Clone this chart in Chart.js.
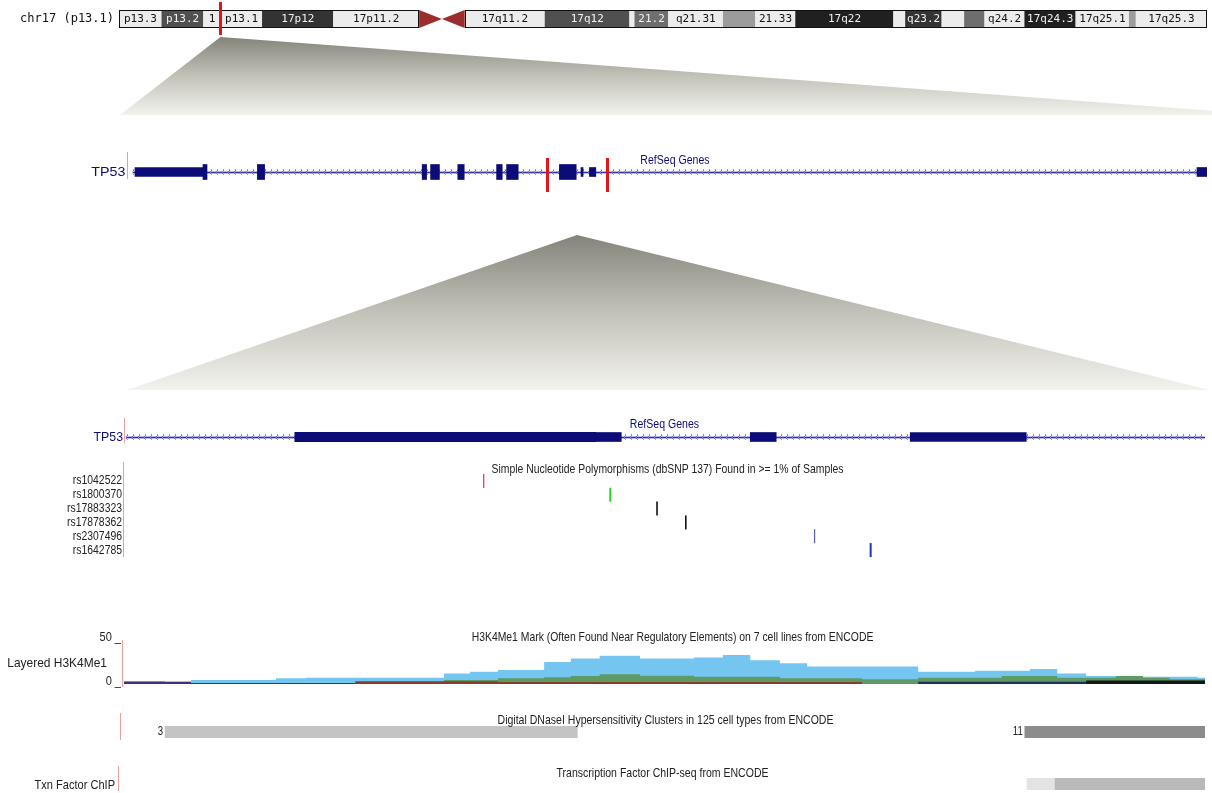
<!DOCTYPE html>
<html>
<head>
<meta charset="utf-8">
<script src="https://cdn.jsdelivr.net/npm/chart.js@4.4.0/dist/chart.umd.min.js"></script>
<style>
  html, body { margin: 0; padding: 0; background: #fff; }
  #page { position: relative; width: 1212px; height: 793px; overflow: hidden; background: #fff; }
  #page canvas { position: absolute; left: 0; }
</style>
</head>
<body>
<div id="page">
  <canvas id="links" width="1212" height="793" style="top:0px"></canvas>
  <canvas id="ideo" width="1212" height="40" style="top:0px"></canvas>
  <canvas id="gene1" width="1212" height="46" style="top:150px"></canvas>
  <canvas id="gene2" width="1212" height="40" style="top:415px"></canvas>
  <canvas id="snp" width="1212" height="106" style="top:460px"></canvas>
  <canvas id="h3" width="1212" height="66" style="top:628px"></canvas>
  <canvas id="dnase" width="1212" height="36" style="top:708px"></canvas>
  <canvas id="txn" width="1212" height="31" style="top:762px"></canvas>
</div>
<script>
// chr17 ideogram, band edges in Mb
const chromName = "chr17"
const markerBand = "p13.1"
const markerMb = 7.57
const bandLabel = ["p13.3", "p13.2", "1", "p13.1", "17p12", "17p11.2", "", "", "17q11.2", "17q12", "", "21.2", "q21.31", "", "21.33", "17q22", "", "q23.2", "", "", "q24.2", "17q24.3", "17q25.1", "", "17q25.3"]
const bandStart = [0, 3.2, 6.3, 7.6, 10.7, 16.0, 22.4, 24.1, 25.8, 31.8, 38.1, 38.5, 41.0, 45.1, 47.5, 50.5, 57.8, 58.7, 61.4, 63.1, 64.6, 67.6, 71.4, 75.4, 75.9]
const bandEnd = [3.2, 6.3, 7.6, 10.7, 16.0, 22.4, 24.1, 25.8, 31.8, 38.1, 38.5, 41.0, 45.1, 47.5, 50.5, 57.8, 58.7, 61.4, 63.1, 64.6, 67.6, 71.4, 75.4, 75.9, 81.2]
const bandStain = ["gneg", "gpos66", "gneg", "gneg", "gpos75", "gneg", "acen", "acen", "gneg", "gpos66", "gneg", "gpos50", "gneg", "gpos25", "gneg", "gpos100", "gneg", "gpos75", "gneg", "gpos50", "gneg", "gpos100", "gneg", "gpos25", "gneg"]
const chromLen = 81.2

// TP53 RefSeq, whole gene view (kb from view start)
const geneName = "TP53"
const view1 = [0, 27]
const cdsStart1 = [1.9, 3.26, 7.38, 7.59, 8.27, 9.24, 9.49, 10.81]
const cdsEnd1 = [2.0, 3.44, 7.49, 7.81, 8.43, 9.38, 9.78, 11.23]
const utrStart1 = [0.2, 11.35, 11.56, 26.75]
const utrEnd1 = [1.9, 11.4, 11.72, 27.0]
const intron1 = [0.15, 27.0]
const zoomSpan = [10.5, 12.0]

// zoomed view (same kb frame)
const cdsStart2 = [10.737]
const cdsEnd2 = [11.155]
const utrStart2 = [11.155, 11.369, 11.591]
const utrEnd2 = [11.19, 11.405, 11.752]
const intron2 = [10.503, 12.0]

// dbSNP 137 common SNPs
const snpNames = ["rs1042522", "rs1800370", "rs17883323", "rs17878362", "rs2307496", "rs1642785"]
const snpPos = [11.0, 11.176, 11.241, 11.281, 11.46, 11.538]
const snpFunc = ["missense", "coding-synon", "intron", "intron", "untranslated", "near-gene"]

// Layered H3K4Me1, bin edges (kb) and signal per cell line
const h3Edges = [10.5, 10.557, 10.593, 10.711, 10.753, 10.821, 10.944, 10.98, 11.019, 11.083, 11.12, 11.16, 11.216, 11.291, 11.331, 11.369, 11.41, 11.448, 11.493, 11.524, 11.602, 11.681, 11.718, 11.757, 11.795, 11.835, 11.876, 11.914, 11.951, 11.99, 12.0]
const huvec = [1.5, 2.6, 4.5, 6.5, 7, 7, 12, 14, 16, 25, 29, 32, 29, 30, 33, 27, 23.5, 20, 20, 20, 14, 15, 15, 17, 12, 9, 8.3, 8.3, 8.3, 7]
const hmec = [0, 0, 0, 0, 0, 2, 4.5, 4.5, 6.5, 7.6, 9, 11, 9.4, 8.3, 8.3, 8.3, 6.5, 6.5, 6.5, 5.5, 7, 7, 9, 9, 7, 7, 9, 7, 5.5, 5.5]
const gm12878 = [0, 0, 0, 0, 0, 3, 3, 3, 2.4, 2.4, 2.4, 2.4, 2.4, 2.4, 2.4, 2.4, 2.4, 2.4, 2.4, 0, 0, 0, 0, 0, 0, 0, 0, 0, 0, 0]
const k562 = [2.5, 2.5, 1.2, 1.2, 1.2, 0, 0, 0, 0, 0, 0, 0, 0, 0, 0, 0, 0, 0, 0, 0, 0, 0, 0, 0, 0, 0, 0, 0, 0, 0]
const hsmm = [0, 0, 0, 0, 0, 0, 0, 0, 0, 0, 0, 0, 0, 0, 0, 0, 0, 0, 0, 0, 2.5, 2.5, 2.5, 2.5, 2.5, 0, 0, 0, 0, 0]
const nhlf = [0, 0, 0, 0, 0, 0, 0, 0, 0, 0, 0, 0, 0, 0, 0, 0, 0, 0, 0, 0, 0, 0, 0, 0, 0, 4, 4, 4, 4, 4]
const h1 = [3.5, 0, 0, 0, 0, 0, 0, 0, 0, 0, 0, 0, 0, 0, 0, 0, 0, 0, 0, 0, 0, 0, 0, 0, 0, 0, 0, 0, 0, 0]

// DNaseI clusters and TF ChIP
const dnaseStart = [10.557, 11.75]
const dnaseEnd = [11.129, 12.0]
const dnaseScore = [3, 11]
const txnStart = [11.753, 11.792]
const txnEnd = [11.792, 12.0]
const txnScore = [2, 5]

// ---- styles ----
const NAVY = "#0c0c78"
const PINK = "rgba(235,90,90,0.6)"
const SANS = '"Liberation Sans", Arial, sans-serif'
const stainColor = { gneg: "#ececec", gpos25: "#9c9c9c", gpos50: "#6e6e6e", gpos66: "#505050", gpos75: "#333333", gpos100: "#202020", acen: "rgba(0,0,0,0)" }
const snpColor = { missense: "#ff3355", "coding-synon": "#22dd22", intron: "#111111", untranslated: "#6060b0", "near-gene": "#1f2fd0" }
const snpWidth = { missense: 1.3, "coding-synon": 2, intron: 1.6, untranslated: 1.3, "near-gene": 2 }

function txt(ctx, s, x, y, font, color, align, sx) {
  ctx.save()
  ctx.font = font
  ctx.fillStyle = color
  ctx.textAlign = align || "left"
  ctx.textBaseline = "middle"
  ctx.translate(x, y)
  ctx.scale(sx || 1, 1)
  ctx.fillText(s, 0, 0)
  ctx.restore()
}

function intronPattern() {
  const c = document.createElement("canvas")
  c.width = 6
  c.height = 5
  const g = c.getContext("2d")
  g.fillStyle = "#b6b6e8"
  g.fillRect(0, 1, 6, 3)
  g.fillStyle = "#34349a"
  g.fillRect(0, 2, 6, 1)
  g.fillStyle = "#7676c4"
  g.fillRect(0, 1, 1, 3)
  g.fillRect(1, 0, 1, 1)
  g.fillRect(1, 4, 1, 1)
  return g.createPattern(c, "repeat")
}

function baseOpts(pad, xmin, xmax) {
  return {
    responsive: false,
    animation: false,
    devicePixelRatio: 1,
    events: [],
    layout: { padding: pad },
    plugins: { legend: { display: false }, tooltip: { enabled: false } },
    scales: {
      x: { type: "linear", min: xmin, max: xmax, display: false },
      y: { type: "category", display: false },
    },
  }
}

function rows(starts, ends, row) {
  return starts.map((s, i) => ({ x: [s, ends[i]], y: row }))
}

function pinkBar(ctx, x, y0, y1) {
  ctx.fillStyle = PINK
  ctx.fillRect(Math.round(x), y0, 1, y1 - y0)
}

// ---- ideogram ----
const ideoDecor = {
  id: "ideoDecor",
  afterDatasetsDraw(chart) {
    const { ctx, chartArea: a, scales: { x } } = chart
    const yc = (a.top + a.bottom) / 2
    bandStain.forEach((st, i) => {
      if (st !== "acen") return
      const x0 = x.getPixelForValue(bandStart[i])
      const x1 = x.getPixelForValue(bandEnd[i])
      const pSide = bandStain[i - 1] !== "acen"
      ctx.fillStyle = "#9b2d2d"
      ctx.beginPath()
      if (pSide) { ctx.moveTo(x0, a.top); ctx.lineTo(x1, yc); ctx.lineTo(x0, a.bottom) }
      else { ctx.moveTo(x1, a.top); ctx.lineTo(x0, yc); ctx.lineTo(x1, a.bottom) }
      ctx.closePath()
      ctx.fill()
    })
    const cen = bandStain.indexOf("acen")
    const arms = [[bandStart[0], bandStart[cen]], [bandEnd[cen + 1], bandEnd[bandEnd.length - 1]]]
    ctx.strokeStyle = "#111"
    ctx.lineWidth = 1
    arms.forEach(([s, e]) => {
      const l = Math.round(x.getPixelForValue(s))
      const r = Math.round(x.getPixelForValue(e))
      ctx.strokeRect(l + 0.5, a.top + 0.5, r - l - 1, a.bottom - a.top - 1)
    })
    bandLabel.forEach((lab, i) => {
      if (!lab) return
      const xm = (x.getPixelForValue(bandStart[i]) + x.getPixelForValue(bandEnd[i])) / 2
      const dark = ["gpos50", "gpos66", "gpos75", "gpos100"].includes(bandStain[i])
      txt(ctx, lab, xm, yc + 0.5, '11px "DejaVu Sans Mono"', dark ? "#f2f2f2" : "#111", "center", 1)
    })
    const mx = x.getPixelForValue(markerMb)
    ctx.fillStyle = "#e3141c"
    ctx.fillRect(Math.round(mx) - 1, 2, 3, 33)
    txt(ctx, chromName + " (" + markerBand + ")", a.left - 5, yc, '12px "DejaVu Sans Mono"', "#111", "right", 1)
  },
}

const ideoOpts = baseOpts({ left: 119, right: 5, top: 10, bottom: 12 }, 0, chromLen)
ideoOpts.indexAxis = "y"
const ideoChart = new Chart(document.getElementById("ideo"), {
  type: "bar",
  data: {
    labels: [chromName],
    datasets: [{
      data: rows(bandStart, bandEnd, chromName),
      backgroundColor: bandStain.map(st => stainColor[st]),
      borderWidth: 0,
      barPercentage: 1,
      categoryPercentage: 1,
    }],
  },
  options: ideoOpts,
  plugins: [ideoDecor],
})

// ---- gene tracks ----
const pattern = intronPattern()

function geneChart(id, view, cds, utr, intron, deco) {
  const opts = baseOpts(deco.pad, view[0], view[1])
  opts.indexAxis = "y"
  const plugin = {
    id: "geneDecor",
    afterDatasetsDraw(chart) {
      const { ctx, chartArea: a, scales: { x } } = chart
      const yc = (a.top + a.bottom) / 2
      pinkBar(ctx, a.left + deco.borderDx, deco.border[0], deco.border[1])
      txt(ctx, geneName, a.left + deco.borderDx - 1, yc, "13px " + SANS, NAVY, "right", deco.nameSx)
      txt(ctx, "RefSeq Genes", (a.left + a.right) / 2 + deco.titleDx, deco.titleY, "12px " + SANS, NAVY, "center", 0.88)
      if (deco.marks) {
        ctx.fillStyle = "#e3141c"
        deco.marks.forEach(v => ctx.fillRect(Math.round(x.getPixelForValue(v)) - 1, yc - 14, 3, 34))
      }
    },
  }
  return new Chart(document.getElementById(id), {
    type: "bar",
    data: {
      labels: [geneName],
      datasets: [
        { data: rows(cds[0], cds[1], geneName), backgroundColor: NAVY, barThickness: 15, grouped: false, order: 1 },
        { data: rows(utr[0], utr[1], geneName), backgroundColor: NAVY, barThickness: 9, grouped: false, order: 1 },
        { data: rows([intron[0]], [intron[1]], geneName), backgroundColor: pattern, barThickness: 5, grouped: false, order: 2 },
      ],
    },
    options: opts,
    plugins: [plugin],
  })
}

const gene1Chart = geneChart("gene1", view1, [cdsStart1, cdsEnd1], [utrStart1, utrEnd1], intron1,
  { pad: { left: 127, right: 5, top: 11, bottom: 13 }, borderDx: -0.5, border: [2, 29], titleY: 11, titleDx: 8, nameSx: 1.1, marks: zoomSpan })
const gene2Chart = geneChart("gene2", zoomSpan, [cdsStart2, cdsEnd2], [utrStart2, utrEnd2], intron2,
  { pad: { left: 124, right: 7, top: 17, bottom: 13 }, borderDx: 0, border: [3, 28], titleY: 10, titleDx: 0, nameSx: 0.95 })

// ---- SNPs ----
const snpOpts = baseOpts({ left: 124, right: 7, top: 14, bottom: 4 }, zoomSpan[0], zoomSpan[1])
snpOpts.scales.y = { type: "linear", min: -0.5, max: snpNames.length - 0.5, reverse: true, display: false }
new Chart(document.getElementById("snp"), {
  type: "scatter",
  data: {
    datasets: [{
      data: snpPos.map((p, i) => ({ x: p, y: i })),
      pointStyle: "line",
      rotation: 90,
      pointRadius: 7,
      pointBorderColor: snpFunc.map(f => snpColor[f]),
      pointBorderWidth: snpFunc.map(f => snpWidth[f]),
    }],
  },
  options: snpOpts,
  plugins: [{
    id: "snpDecor",
    afterDatasetsDraw(chart) {
      const { ctx, chartArea: a, scales: { y } } = chart
      pinkBar(ctx, a.left - 1, 2, a.bottom)
      snpNames.forEach((n, i) => txt(ctx, n, a.left - 2, y.getPixelForValue(i), "13px " + SANS, "#222", "right", 0.8))
      txt(ctx, "Simple Nucleotide Polymorphisms (dbSNP 137) Found in >= 1% of Samples", (a.left + a.right) / 2 + 4, 9, "13px " + SANS, "#222", "center", 0.8)
    },
  }],
})

// ---- H3K4Me1 ----
const layers = [
  { name: "NHLF", vals: nhlf, color: "#161616" },
  { name: "HSMM", vals: hsmm, color: "#1f2f58" },
  { name: "K562", vals: k562, color: "#4a2e78" },
  { name: "GM12878", vals: gm12878, color: "#8c3a2a" },
  { name: "H1-hESC", vals: h1, color: "#e09a3a" },
  { name: "HMEC", vals: hmec, color: "#5e9b64" },
  { name: "HUVEC", vals: huvec, color: "#74c6f1" },
]
const h3Opts = baseOpts({ left: 124, right: 7, top: 12, bottom: 10 }, zoomSpan[0], zoomSpan[1])
h3Opts.scales.y = { type: "linear", min: 0, max: 50, display: false }
new Chart(document.getElementById("h3"), {
  type: "line",
  data: {
    datasets: layers.map((l, k) => ({
      label: l.name,
      data: h3Edges.map((e, i) => ({ x: e, y: l.vals[Math.min(i, l.vals.length - 1)] })),
      stepped: "before",
      fill: "origin",
      backgroundColor: l.color,
      borderColor: "rgba(0,0,0,0)",
      borderWidth: 0,
      pointRadius: 0,
      order: k,
    })),
  },
  options: h3Opts,
  plugins: [{
    id: "h3Decor",
    afterDatasetsDraw(chart) {
      const { ctx, chartArea: a, scales: { y } } = chart
      pinkBar(ctx, a.left - 2, a.top, a.bottom + 3)
      ;[50, 0].forEach(v => txt(ctx, v + " _", a.left - 3, y.getPixelForValue(v) - 3, "13px " + SANS, "#222", "right", 0.85))
      txt(ctx, "Layered H3K4Me1", 107, (a.top + a.bottom) / 2 + 1, "13px " + SANS, "#222", "right", 0.92)
      txt(ctx, "H3K4Me1 Mark (Often Found Near Regulatory Elements) on 7 cell lines from ENCODE", (a.left + a.right) / 2 + 8, 9, "13px " + SANS, "#222", "center", 0.8)
    },
  }],
})

// ---- DNaseI clusters / TF ChIP ----
function greyBars(id, starts, ends, shades, pad, deco) {
  const opts = baseOpts(pad, zoomSpan[0], zoomSpan[1])
  opts.indexAxis = "y"
  return new Chart(document.getElementById(id), {
    type: "bar",
    data: {
      labels: [id],
      datasets: [{ data: rows(starts, ends, id), backgroundColor: shades, borderWidth: 0, barPercentage: 1, categoryPercentage: 1 }],
    },
    options: opts,
    plugins: [{
      id: "greyDecor",
      afterDatasetsDraw(chart) {
        const { ctx, chartArea: a, scales: { x } } = chart
        const yc = (a.top + a.bottom) / 2
        pinkBar(ctx, a.left + deco.borderDx, deco.border[0], deco.border[1])
        txt(ctx, deco.title, (a.left + a.right) / 2 + deco.titleDx, deco.titleY, "13px " + SANS, "#222", "center", 0.81)
        if (deco.name) txt(ctx, deco.name, a.left + deco.borderDx - 3, yc + 1, "13px " + SANS, "#222", "right", 0.85)
        if (deco.scores) deco.scores.forEach((s, i) => txt(ctx, String(s), x.getPixelForValue(starts[i]) - 2, yc, "12px " + SANS, "#222", "right", 0.8))
      },
    }],
  })
}

const shade = v => "rgb(" + v + "," + v + "," + v + ")"
greyBars("dnase", dnaseStart, dnaseEnd, dnaseScore.map(s => shade(217 - 7 * s)),
  { left: 124, right: 7, top: 18, bottom: 6 },
  { borderDx: -4, border: [5, 32], titleY: 12, titleDx: 1, title: "Digital DNaseI Hypersensitivity Clusters in 125 cell types from ENCODE", scores: dnaseScore })
greyBars("txn", txnStart, txnEnd, txnScore.map(s => shade(255 - 14 * s)),
  { left: 124, right: 7, top: 16, bottom: 3 },
  { borderDx: -6, border: [4, 29], titleY: 11, titleDx: -2, title: "Transcription Factor ChIP-seq from ENCODE", name: "Txn Factor ChIP" })

// ---- zoom connectors ----
const linkBottom = [115, 390]
const linkTop2 = 235
new Chart(document.getElementById("links"), {
  type: "scatter",
  data: { datasets: [] },
  options: {
    responsive: false, animation: false, devicePixelRatio: 1, events: [],
    plugins: { legend: { display: false }, tooltip: { enabled: false } },
    scales: { x: { display: false }, y: { display: false } },
  },
  plugins: [{
    id: "links",
    beforeDraw(chart) {
      const ctx = chart.ctx
      const ideoTop = document.getElementById("ideo").offsetTop
      const apex1 = ideoChart.scales.x.getPixelForValue(markerMb)
      const top1 = ideoTop + ideoChart.chartArea.bottom + 9
      const left1 = gene1Chart.chartArea.left - 7
      const zx = zoomSpan.map(v => gene1Chart.scales.x.getPixelForValue(v))
      const apex2 = (zx[0] + zx[1]) / 2
      const left2 = gene2Chart.chartArea.left + 3
      const right2 = gene2Chart.chartArea.right + 5
      const fillTrap = (pts, y0, y1) => {
        const g = ctx.createLinearGradient(0, y0, 0, y1)
        g.addColorStop(0, "#84847a")
        g.addColorStop(0.5, "#c2c2b9")
        g.addColorStop(1, "#f3f3ee")
        ctx.fillStyle = g
        ctx.beginPath()
        pts.forEach(([px, py], i) => (i ? ctx.lineTo(px, py) : ctx.moveTo(px, py)))
        ctx.closePath()
        ctx.fill()
      }
      fillTrap([[apex1, top1], [1270, linkBottom[0]], [left1, linkBottom[0]]], top1, linkBottom[0])
      fillTrap([[apex2, linkTop2], [right2, linkBottom[1]], [left2, linkBottom[1]]], linkTop2, linkBottom[1])
    },
  }],
})
</script>
</body>
</html>
